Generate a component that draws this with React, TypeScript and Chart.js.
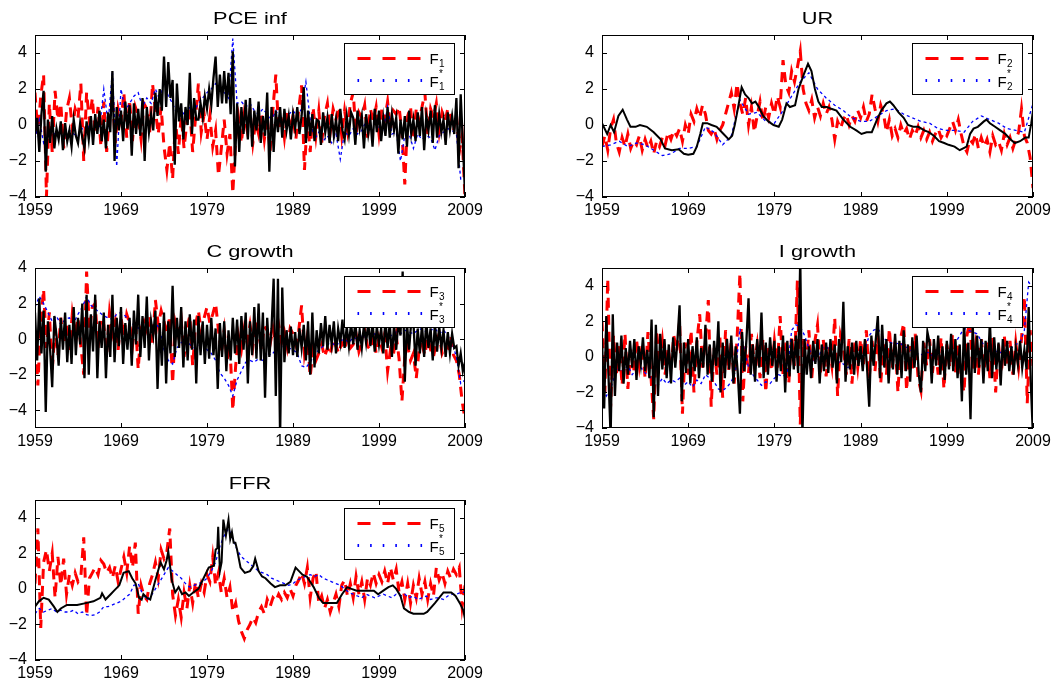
import React, { useEffect, useRef } from "react";
import { Chart, registerables } from "chart.js";

Chart.register(...registerables);

const FONT = '"Liberation Sans", Arial, Helvetica, sans-serif';

// ---------- axis ticks ----------
const yearTicks = [1959, 1969, 1979, 1989, 1999, 2009];
const yTicks = [-4, -2, 0, 2, 4];

// ---------- PCE inf ----------
const pceActual = [
  -0.5, 0.4, -1.5, 0.6, 1.9, -2.6, 0.3, -1.0, 0.5, -1.3, -0.2, -0.8, 0.2, -1.4, 0.1, -0.9,
  -0.3, -1.2, 0.3, -0.6, -1.0, 0.1, -0.7, -1.3, 0.2, -0.8, 0.5, -1.1, 0.6, -0.5, 0.8, -0.9,
  0.3, -1.3, 0.7, -0.4, 3.0, -2.0, 1.0, -0.3, 0.8, -0.9, 1.3, -0.2, 1.1, -1.7, 1.2, -0.5,
  0.9, -0.6, 1.5, -2.0, 1.0, -0.4, 0.6, -0.3, 1.8, 0.5, 2.0, 0.8, 3.8, 1.0, 3.5, 1.5,
  2.5, -2.2, 2.3, 0.2, 1.2, -0.8, 1.0, 0.0, 2.9, -0.5, 1.5, 0.3, 0.3, 1.2, 0.4, 1.6,
  0.9, 2.0, 1.1, 2.6, 3.8, 1.0, 2.8, 1.2, 3.0, 1.2, 2.9, 0.6, 4.1, -2.3, 1.2, -1.5,
  1.0, -0.5, 1.4, -0.8, 1.5, -1.2, 0.8, -0.3, 1.3, -1.0, 0.5, -0.6, 1.8, -2.6, 1.0, -1.5,
  0.8, -0.4, 1.0, -0.7, 0.9, -0.3, 0.5, -0.8, 0.6, -0.2, 1.0, -0.5, 0.5, 2.1, -1.0, 0.8,
  -0.6, 0.6, -0.9, 0.3, 0.2, -1.1, 0.7, -0.4, 0.4, -1.0, 0.6, -0.6, 0.3, -0.9, 0.9, -0.3,
  -0.8, 0.5, -0.5, 0.7, 0.4, -1.1, 0.8, -0.2, 0.5, -1.3, 0.6, -0.5, 0.3, -1.2, 0.9, -0.4,
  0.8, -0.9, 0.4, -0.6, 1.0, -0.7, 0.6, -0.3, 0.4, -1.6, 0.3, -0.8, 0.5, -1.2, 0.8, -0.5,
  0.3, -0.9, 0.7, -0.6, 1.0, -1.4, 0.5, -0.3, 0.8, -1.0, 1.1, -0.7, 0.6, -0.4, 0.3, -1.1,
  0.7, -0.3, 0.5, -0.5, 1.5, -2.4, 1.7, -1.0, -3.8,
];
const pceF = [
  1.8, -0.5, 1.6, 2.8, -4.0, 1.2, -1.5, 1.9, 0.3, 1.2, -1.3, 0.8, 1.5, -0.2, 0.9,
  0.4, 2.3, -2.0, 1.8, 0.2, 1.5, -0.5, 1.0, -1.2, 1.3, -1.5, 0.6, 1.6, -1.0, 0.9,
  0.2, 1.8, -0.7, 1.4, -0.9, 1.0, 0.5, -0.8, 1.2, 0.9, -0.4, 2.3, 0.8, -0.5, 1.0,
  -1.2, -2.5, -1.0, -3.0, 0.3, -1.6, 0.5, -1.3, 0.2, 0.9, -1.5, 0.4, 2.3, -0.4, 0.6,
  -0.8, 0.5, -1.2, -0.3, -2.8, -1.3, 0.3, -1.6, -0.5, -3.8, -0.8, 0.4, -1.0, 0.6, -0.3,
  0.8, -1.0, 0.2, -0.5, 0.7, -0.8, 0.5, -1.5, 0.9, 2.8, -0.3, 0.6, -0.7, 0.8, -0.2,
  0.5, -0.8, 0.9, 2.2, -2.5, 0.4, -1.5, 1.0, -0.6, 0.8, -1.0, 0.5, 1.2, -0.4, 0.9,
  0.3, 1.0, -0.6, 0.8, -0.3, 1.2, 1.8, -0.5, 0.7, 0.4, 1.1, -0.7, 0.9, 0.2, 1.0,
  -0.5, 0.9, 0.3, 1.3, -0.2, 0.8, 0.6, 1.0, -0.4, -3.3, 0.5, 1.0, -0.8, 0.9, 0.2,
  1.0, 1.8, -0.5, 0.9, 0.4, 1.2, -0.4, 0.7, 0.2, 0.9, 0.5, -0.3, 0.6, -1.5, -0.6,
  -4.0,
];
const pceFstar = [
  -0.8, 0.3, -1.0, -0.5, -0.6, -0.4, -0.5, -0.8, -0.3, -0.5, -0.6, -0.2, -0.4, 0.2,
  0.3, -0.2, 2.0, 0.1, 3.0, -2.3, 2.0, 0.8, 1.2, 1.6, 1.8, 1.0, 1.5, 1.2, 2.0, 1.4,
  2.4, 1.6, 1.2, 0.6, 0.8, 0.5, 1.0, 0.8, 1.2, 1.5, 1.8, 2.0, 2.3, 2.0, 1.8, 1.5,
  4.8, 1.2, 1.3, 1.0, 1.2, 0.8, 0.6, 0.9, 0.6, 0.2, 0.8, 0.4, 0.5, 0.6, 0.8, 0.5,
  0.9, 2.4, 0.3, -0.8, -0.4, -0.9, -0.6, -1.0, -0.5, -1.9, -0.4, -0.6, -0.2, -0.5,
  -0.3, 0.2, -0.4, -0.2, -0.1, -0.3, 1.0, -0.5, -0.4, -2.0, -0.6, -0.5, -1.3, -0.5,
  -0.8, -0.6, -0.7, -1.4, -0.6, -0.4, -0.2, -0.3, -0.5, -3.0, -3.0,
];

// ---------- UR ----------
const urActualYears = [
  1959.0, 1959.6, 1960.0, 1960.4, 1960.9, 1961.4, 1961.9, 1962.3, 1962.9, 1963.4, 1964.2, 1965.0,
  1965.8, 1966.3, 1967.1, 1967.9, 1968.5, 1969.0, 1969.6, 1970.0, 1970.4, 1970.7, 1971.2, 1971.7,
  1972.3, 1973.1, 1973.7, 1974.1, 1974.4, 1974.8, 1975.2, 1975.6, 1976.0, 1976.4, 1976.8, 1977.2,
  1977.7, 1978.3, 1978.9, 1979.5, 1979.9, 1980.4, 1980.8, 1981.4, 1981.8, 1982.4, 1982.9, 1983.3,
  1983.7, 1984.1, 1984.5, 1985.1, 1985.6, 1986.2, 1987.0, 1987.8, 1988.5, 1989.1, 1989.7, 1990.3,
  1990.9, 1991.4, 1992.0, 1992.4, 1992.8, 1993.4, 1994.0, 1994.5, 1995.1, 1995.7, 1996.4, 1996.9,
  1997.5, 1998.1, 1998.7, 1999.2, 1999.9, 2000.5, 2000.9, 2001.3, 2001.7, 2002.1, 2002.6, 2003.3,
  2003.6, 2004.0, 2004.6, 2005.2, 2005.8, 2006.4, 2006.9, 2007.5, 2008.1, 2008.5, 2008.8, 2009.0,
];
const urActual = [
  0.1, -0.5, 0.0, -0.4, 0.5, 0.85, 0.3, -0.1, -0.1, 0.0, -0.1, -0.4,
  -0.8, -1.3, -1.4, -1.35, -1.6, -1.65, -1.6, -1.2, -0.5, 0.1, 0.1, 0.0,
  -0.1, -0.5, -0.8, -0.6, 0.0, 1.0, 2.1, 1.7, 1.5, 1.2, 1.3, 1.0,
  0.5, 0.2, 0.0, -0.1, 0.3, 1.2, 1.0, 1.1, 2.0, 2.8, 3.4, 3.0,
  2.0, 1.3, 1.0, 1.0, 0.9, 0.8, 0.3, -0.1, -0.3, -0.5, -0.4, -0.4,
  0.3, 0.8, 1.2, 1.3, 1.1, 0.7, 0.4, 0.0, -0.1, -0.1, -0.3, -0.4,
  -0.6, -0.9, -1.0, -1.1, -1.2, -1.4, -1.3, -1.2, -0.5, -0.2, -0.1, 0.2,
  0.3, 0.1, -0.1, -0.3, -0.5, -0.8, -1.0, -0.9, -0.7, -0.7, 0.1, 0.8,
];
const urF = [
  -1.2, -0.6, -1.4, -0.2, 0.3, -1.0, -1.5, -0.7, -1.2, -0.5, -1.3, -0.9, -1.1, -0.6, -1.4,
  -0.8, -1.3, -0.9, -1.6, -0.9, -1.2, -0.7, -1.1, -0.4, -0.8, -0.3, -0.6, -0.2, -0.9, 0.0,
  -0.5, 0.6, 0.2, 0.9, 0.4, 1.1, 0.6, -0.3, -0.5, -0.2, -0.8, -0.3, 0.0, 0.6, 1.2,
  1.8, 0.9, 2.3, 1.2, 0.6, 1.5, 0.0, 1.0, -0.4, 0.5, 1.3, 0.2, 1.0, 0.4, 1.2,
  0.6, 1.6, 1.0, 3.6, 2.2, 1.8, 3.0, 2.4, 3.2, 4.1, 2.0, 1.2, 0.8, 1.4, 0.4,
  1.0, 0.5, 1.2, 0.6, 1.0, 0.3, -0.8, 0.2, -0.2, 0.3, 0.6, 0.0, 0.5, 0.2, 0.8,
  0.4, 1.0, 0.2, 0.6, 1.7, 0.9, 0.2, 1.1, 0.6, -0.4, 0.3, -0.6, -0.2, -0.7, 0.0,
  -0.5, -0.2, -0.8, -0.3, -0.6, -0.1, -0.7, -0.3, -0.8, -0.4, -0.9, -0.5, -0.2, -0.7, -0.4,
  -0.6, -0.2, 0.2, -0.3, 0.3, -0.5, -1.2, -1.5, -0.8, -1.0, -0.5, -1.3, -0.7, -1.2, -0.8,
  -1.5, -0.6, -1.1, -0.9, -1.4, -0.5, -1.1, -0.7, -1.3, -0.8, -0.4, 0.9, -0.6, -1.0, -1.8,
  -3.5,
];
const urFstar = [
  -1.2, -1.1, -0.9, -1.2, -1.0, -1.1, -1.4, -1.7, -1.6, -1.3, -1.3, -1.2, -0.1, -0.4, -1.1,
  -0.6, 1.4, 0.6, 0.7, 0.2, 0.1, 0.8, 1.6, 2.4, 2.9, 2.0, 1.5, 1.1, 0.8, 0.4, 0.2, 0.2,
  0.5, 0.8, 0.9, 0.6, 0.4, 0.2, 0.1, -0.2, -0.3, -0.3, -0.4, 0.2, 0.5, 0.3, 0.1, -0.2,
  -0.3, -0.4, 1.2,
];

// ---------- C growth ----------
const cActual = [
  1.5, -1.2, 2.3, -0.8, 1.6, -4.1, 1.0, -0.5, -2.7, 1.3, 0.2, -1.5, 1.2, -0.6, 1.5, -1.3,
  0.8, -1.4, 1.8, -0.9, 1.2, -0.3, 2.0, -2.2, 2.5, -2.0, 1.4, -0.7, 2.5, -2.2, 1.0, -0.5,
  1.5, -2.2, 0.8, -1.0, 2.5, -1.3, 1.2, -0.4, 1.8, -1.4, 0.9, -0.6, 1.2, -1.5, 1.6, -0.3,
  2.5, -1.0, 1.3, -0.5, 2.4, -1.2, 1.0, 0.2, 1.6, -2.8, 0.9, -1.5, 1.5, -2.5, 1.0, -0.8,
  3.0, -1.0, 1.2, -0.5, 1.8, -1.6, 1.0, -1.2, 1.4, -0.6, 1.1, -2.5, 1.3, -0.9, 1.0, -1.4,
  0.8, -1.1, 1.2, -0.9, 0.6, -2.8, 0.9, -1.0, 1.0, -1.8, 0.5, -1.2, 1.2, -0.8, 1.1, -1.4,
  1.3, -0.6, 1.5, -2.5, 1.0, -0.9, 1.8, -1.1, 2.0, -1.2, 1.5, -3.3, 1.2, -1.0, 0.6, 3.4,
  -3.2, 3.4, -5.5, 2.9, -1.3, 0.5, -0.8, 0.7, -0.9, 0.4, -1.0, 0.6, -0.5, 0.8, -1.2, 1.0,
  -2.0, 1.5, -1.6, 0.5, -0.8, 0.9, -0.4, 1.3, -0.6, 0.8, -0.3, 1.0, -0.8, 0.6, -0.2, 1.1,
  -0.5, 0.7, -0.4, 0.9, -0.3, 1.0, -0.6, 0.5, -0.5, 0.8, -0.2, 0.9, -0.4, 1.0, -0.7, 0.7,
  -0.3, 0.6, -0.8, 1.1, -0.5, 0.9, -1.0, 0.8, -0.6, 1.0, 0.2, 3.8, -2.4, 0.9, -0.6, 1.0,
  1.0, -1.5, 0.6, -0.8, 0.8, -1.0, 1.0, -0.5, 0.6, -1.2, 0.9, -0.7, 0.7, -0.5, 0.5, -1.0,
  0.4, -0.8, 0.3, -0.5, -0.4, -1.5, -0.8, -1.8, -1.3,
];
const cF = [
  0.5, -2.6, 1.0, 2.8, -0.5, 1.5, -1.8, 0.6, -0.9, 1.2, -0.3, 0.8, -0.6, 1.4, 0.2,
  1.2, -0.4, -2.0, 3.8, 0.5, 1.8, 2.0, -0.5, 1.2, 0.8, -0.8, 1.5, 0.3, 1.0, -0.6,
  1.2, 0.2, 1.4, 0.9, -0.4, 1.1, -1.7, 0.6, 1.0, 0.5, 1.3, -0.2, 2.2, 0.8, 1.6,
  1.0, 0.3, 1.3, -2.5, 0.9, 0.2, 1.1, -1.0, 0.6, 1.3, -1.5, 0.8, 1.6, 0.4, 1.2,
  1.8, 0.9, 1.4, 2.0, 0.5, -0.8, 0.5, -1.2, -0.3, -4.0, -1.5, 0.2, -0.6, 0.6, -0.2,
  0.8, -0.4, 1.0, 0.3, -0.6, 0.7, 0.5, -0.3, 0.6, -0.4, 0.8, -0.2, 0.4, -0.5, 0.6,
  0.3, -0.3, 0.5, 1.9, -0.8, 0.2, -2.1, -0.6, -1.2, -0.8, -0.3, -1.0, -0.5, -0.9, 0.0,
  -0.4, -0.8, -0.2, -0.6, 0.1, -0.5, -0.3, 0.3, -0.7, -0.2, 0.5, -0.4, -0.6, 0.2, -0.8,
  0.1, -0.5, 0.3, -1.8, -0.6, -0.9, 0.2, -1.1, -3.5, -1.0, -0.4, -1.2, -0.8, -2.2, -0.6,
  -0.3, -0.9, 0.1, -0.6, -1.0, -0.2, 0.3, -0.8, -0.4, -0.5, 0.2, -0.9, -1.2, -2.0, -3.5,
  -4.5,
];
const cFstar = [
  1.8, 2.4, 2.0, 1.5, 1.0, 1.3, 0.8, 1.1, 1.2, 0.9, 1.4, 1.8, 2.4, 1.9, 1.7, 1.5,
  1.3, 1.2, 1.1, 1.4, 1.5, 1.3, 1.0, 0.8, 0.6, 0.9, 0.7, 0.5, 0.9, 0.6, -0.6, -1.2,
  -1.4, -0.5, -0.2, 0.0, -0.3, -0.5, -0.4, -0.2, -0.6, -0.8, -1.2, -1.9, -2.2, -2.6,
  -3.2, -2.3, -1.8, -1.3, -1.2, -1.3, -1.1, -1.2, -0.8, -0.9, -0.6, -0.5, -0.4, -0.5,
  -0.6, -0.8, -1.5, -1.6, -1.3, -0.9, -0.6, -0.4, -0.3, -0.2, -0.4, -0.1, 0.0, -0.2,
  0.1, 0.0, 0.2, 0.1, 0.0, 0.3, 0.2, 0.1, 0.3, 0.2, 0.4, 0.3, 0.5, 0.4, 0.3, 0.5,
  0.6, 0.4, 0.5, 0.6, 0.3, 0.5, 0.2, -0.2, -1.0, -2.5, -2.3,
];

// ---------- I growth ----------
const iActual = [
  1.0, -2.9, 2.3, -1.0, -4.5, 2.4, -2.2, 0.8, -0.8, 1.2, -1.5, 0.5, -1.0, 0.9, -0.6, 1.0,
  -1.3, 0.6, -0.4, 1.1, -0.8, 0.4, -1.2, 2.1, -3.4, 1.8, -2.2, 1.3, -0.7, 1.0, -1.2, 0.7,
  -1.5, 1.1, -0.6, 0.9, 2.9, -2.5, 0.8, -0.9, 1.0, -1.5, 0.6, -0.8, 1.1, -1.2, 0.5, -0.6,
  1.8, -1.0, 0.7, -1.4, 0.9, -0.5, 2.0, -2.0, 0.8, -1.2, 1.0, -0.7, 1.2, -1.5, 0.6, -0.9,
  -3.2, 1.4, -0.8, 0.9, 3.3, -1.0, 0.7, -1.4, 1.0, -0.6, 2.5, -1.2, 0.8, -1.0, 1.1, -0.5,
  0.9, -1.4, 0.6, -0.8, 1.2, -2.0, 0.9, -1.1, 1.0, -0.7, 1.2, -0.9, 5.5, -4.5, 1.0, -1.0,
  0.6, -1.2, 0.9, -0.4, 1.0, -1.5, 0.7, -0.8, 0.8, -0.9, 1.0, -0.6, 0.7, -1.5, 1.0, -0.3,
  3.1, -1.4, 0.6, -0.7, 0.8, -1.0, 0.9, -0.5, 0.6, -0.8, 1.0, -0.6, -2.8, 1.2, -0.5, 0.9,
  2.3, -1.2, 1.8, -0.6, 1.0, -1.5, 0.8, -0.7, 1.3, -1.0, 0.9, -1.2, 1.5, -0.8, 0.7, -1.4,
  1.1, -0.6, 1.2, -1.0, -2.0, 0.9, -0.8, 1.4, 0.8, -1.5, 1.0, -0.5, 1.2, -1.0, 0.6, -1.3,
  0.9, -0.7, 1.3, -0.8, 1.0, -1.2, 0.7, -2.5, 2.0, -1.0, 0.8, -3.5, 1.8, -0.9, 1.2, -0.6,
  1.0, -1.5, 0.9, -0.8, 2.0, -1.2, 1.1, -0.7, 0.8, -1.6, 1.0, -0.5, 0.9, -0.8, 0.6, -1.0,
  0.5, -0.4, 0.9, -0.6, 0.4, -0.7, 2.8, -1.5, -4.5,
];
const iF = [
  2.0, -2.0, 4.4, -2.8, 1.2, -1.0, 0.6, -1.6, 1.3, -1.8, 0.4, -0.9, 1.0, -0.5, 0.7,
  -1.2, 1.4, -1.0, -3.5, 1.5, -0.4, 0.9, -1.0, 0.5, -0.7, 1.2, 0.3, 2.0, -3.2, 0.8,
  -1.0, 1.5, -2.0, 0.8, 2.4, -0.6, 1.0, 3.2, -2.8, 0.5, -1.0, 1.2, -2.3, 1.5, -0.8,
  0.9, -1.5, 1.0, 4.7, -2.5, 0.6, -0.9, 1.3, -0.4, 0.7, -1.2, 1.0, -2.0, 0.5, -0.8,
  0.9, -0.6, 2.3, -1.0, 0.8, -1.5, 1.2, -0.5, 4.3, -3.8, 1.0, -0.7, 1.5, -1.2, 0.8,
  1.8, -0.9, 1.0, -1.1, 0.6, -0.5, 2.2, -2.2, 1.2, 0.5, -1.0, 1.0, -1.5, 0.8, -0.6,
  1.0, -0.4, 1.5, -1.2, 0.9, -0.8, 1.2, -1.5, 0.7, -1.0, 1.6, -0.6, 0.9, -2.0, 1.1,
  1.9, -1.9, 0.6, -0.8, 1.3, -1.2, -1.9, 0.8, -0.5, 1.0, -0.9, 0.6, -1.0, 1.1, -1.8,
  0.7, -0.6, 1.3, -0.9, 0.8, -1.1, -2.0, 1.2, 2.0, -0.8, 0.6, -1.0, 1.0, -0.7, 0.8,
  -1.2, 1.1, -2.0, 0.7, -0.9, 1.2, -0.5, 0.9, -1.0, 0.8, -0.6, 1.0, 3.4, -2.6, 1.5,
  -0.5,
];
const iFstar = [
  -1.5, -2.2, -1.8, -1.0, -0.6, -0.8, -0.5, -1.0, -0.7, -0.6, -0.9, -1.1, -1.4, -1.6,
  -1.2, -1.5, -1.3, -1.4, -1.2, -1.6, -1.4, -1.7, -1.3, -1.5, -1.0, -1.2, -1.4, -1.8,
  -1.9, -1.7, -1.4, -0.8, 1.6, 0.4, -0.6, -1.0, -1.3, -1.6, -1.4, -1.5, -1.2, -1.0,
  -1.1, -0.9, 1.5, 1.8, 1.7, 1.2, 0.5, -0.2, -0.3, 0.5, 0.6, 0.3, 0.0, -0.3, -0.4,
  -0.6, -0.5, -0.4, -0.2, 0.4, 1.2, 1.5, 1.6, 1.2, 0.9, 0.8, 0.7, 0.8, 0.6, 0.5,
  0.3, 0.2, 0.1, 0.3, 0.2, 0.0, 0.2, 0.1, 0.3, 0.4, 0.8, 1.2, 1.6, 1.5, 1.4, 1.3,
  0.9, 0.5, 0.3, 0.4, 0.2, 0.3, 0.4, 0.5, 0.7, 0.8, 1.5, 4.2, 3.9,
];

// ---------- FFR ----------
const ffrActualYears = [
  1959.0, 1959.45, 1960.0, 1960.6, 1961.2, 1961.6, 1962.0, 1962.7, 1963.9, 1964.9, 1965.8, 1966.6,
  1966.8, 1967.2, 1967.8, 1968.2, 1968.8, 1969.3, 1969.9, 1970.3, 1970.7, 1971.1, 1971.4, 1971.6,
  1972.0, 1972.4, 1973.0, 1973.6, 1974.0, 1974.3, 1974.5, 1974.9, 1975.3, 1975.7, 1976.1, 1976.5,
  1976.9, 1977.4, 1978.0, 1978.6, 1979.2, 1979.8, 1980.0, 1980.2, 1980.3, 1980.5, 1980.7, 1980.9,
  1981.2, 1981.5, 1981.7, 1981.9, 1982.1, 1982.3, 1982.5, 1982.9, 1983.4, 1984.0, 1984.4, 1984.6,
  1985.0, 1985.4, 1985.8, 1986.4, 1986.9, 1987.5, 1988.1, 1988.7, 1989.3, 1989.7, 1990.1, 1990.6,
  1991.0, 1991.4, 1992.0, 1992.5, 1993.3, 1994.1, 1994.7, 1995.3, 1995.8, 1996.4, 1997.4, 1998.4,
  1998.9, 1999.5, 2000.1, 2000.6, 2001.0, 2001.5, 2001.9, 2002.5, 2003.0, 2004.2, 2004.6, 2005.5,
  2006.5, 2007.4, 2007.9, 2008.4, 2008.8, 2009.0,
];
const ffrActual = [
  -1.0, -0.7, -0.5, -0.6, -1.0, -1.3, -1.1, -0.9, -0.9, -0.8, -0.7, -0.5,
  -0.25, -0.6, -0.3, -0.1, 0.2, 0.9, 1.0, 0.6, 0.3, -0.5, -0.6, -0.3,
  -0.5, -0.6, 0.5, 1.5, 1.1, 1.6, 2.1, 0.5, -0.2, 0.1, -0.3, -0.2,
  -0.4, -0.2, 0.0, 0.6, 1.2, 1.3, 2.2, 2.3, 3.5, 1.0, 1.5, 3.9,
  3.0, 3.9, 2.8, 3.2, 2.6, 2.6, 2.2, 1.2, 0.9, 1.0, 1.3, 1.7,
  1.0, 0.7, 0.6, 0.3, 0.1, 0.2, 0.2, 0.4, 1.2, 1.0, 0.8, 0.7,
  0.4, 0.1, -0.5, -0.8, -0.8, -0.8, -0.3, 0.1, 0.0, -0.1, -0.1, -0.1,
  -0.3, -0.1, 0.1, 0.2, 0.0, -0.4, -1.1, -1.3, -1.4, -1.4, -1.3, -0.8,
  -0.2, -0.2, -0.4, -0.8, -1.2, -1.7,
];
const ffrF = [
  0.3, 3.4, -2.2, 1.5, 2.2, 1.0, 2.0, -0.5, 1.8, 0.2, 1.7, -0.3, 0.8, 0.2, 0.9,
  0.4, 0.7, 2.9, -1.5, 0.6, 0.9, 1.2, 0.8, 1.6, 1.4, 0.9, 1.2, 0.6, 1.3, 0.4,
  1.1, 1.8, 0.9, 2.4, 1.2, 2.6, -1.4, 0.2, -0.4, -0.6, 0.3, 0.8, 1.5, 0.6, 2.2,
  1.7, 2.1, 3.4, -0.3, -1.5, -0.6, -1.6, -0.2, -1.1, 0.2, -0.8, 0.4, -0.5, 0.3, -0.2,
  0.8, 0.4, 1.8, 0.2, 0.9, -0.2, 0.6, -0.5, 0.1, -1.3, -0.8, -1.8, -2.4, -2.8, -2.3,
  -2.0, -1.6, -1.9, -1.3, -1.0, -1.4, -0.6, -1.0, -0.5, -0.7, -0.3, -0.6, -0.2, -0.5, 0.0,
  -0.4, 0.2, 0.5, 0.9, 0.3, 1.2, -0.5, 0.6, 1.0, -0.8, -0.4, -1.1, -0.6, -1.3, -0.8,
  -0.3, -1.0, 0.2, 0.5, -0.4, 0.3, -0.5, 0.7, -0.3, 0.4, -0.6, 0.6, 0.2, 0.9, 0.3,
  0.8, 0.4, 1.0, 0.3, 1.2, 0.5, 1.1, -0.2, 0.4, -0.6, 0.3, -0.8, 0.2, -0.5, 0.6,
  -0.3, 0.4, -0.6, 0.3, -0.4, 1.2, 0.5, 0.9, 0.3, 1.0, 0.6, 1.1, 0.8, 1.2, -1.0,
  0.2,
];
const ffrFstar = [
  -1.4, -1.1, -1.3, -1.2, -1.1, -1.3, -1.2, -1.3, -1.3, -1.2, -1.4, -1.3, -1.45, -1.5,
  -1.45, -1.3, -1.0, -1.0, -0.9, -0.8, -0.7, -0.5, -0.3, 0.2, 0.3, -0.3, -0.6, -0.4,
  0.0, 0.4, 0.8, 1.2, 1.0, 0.8, 0.6, 0.3, 0.1, 0.2, 0.3, 0.4, 0.6, 1.0, 1.5, 2.4,
  3.0, 3.4, 2.8, 2.2, 1.8, 1.6, 1.4, 1.2, 1.0, 0.9, 0.8, 0.6, 0.5, 0.4, 0.3, 0.2,
  0.3, 0.5, 0.6, 0.7, 0.8, 0.7, 0.8, 0.6, 0.5, 0.4, 0.3, 0.2, 0.0, -0.2, -0.3, -0.4,
  -0.5, -0.3, -0.4, -0.5, -0.4, -0.3, -0.4, -0.5, -0.3, -0.4, -0.3, -0.5, -0.4, -0.6,
  -0.5, -0.4, -0.6, -0.5, -0.5, -0.6, -0.4, -0.3, -0.3, -0.2, -0.2,
];

// ---------- helpers ----------
function evenSeries(values: number[]) {
  const n = values.length;
  const x0 = yearTicks[0];
  const x1 = yearTicks[yearTicks.length - 1];
  return values.map((v, i) => ({ x: x0 + (i * (x1 - x0)) / (n - 1), y: v }));
}
function pairSeries(years: number[], values: number[]) {
  const n = Math.min(years.length, values.length);
  const out: { x: number; y: number }[] = [];
  for (let i = 0; i < n; i++) out.push({ x: years[i], y: values[i] });
  return out;
}
const fmtNum = (v: number) => (v < 0 ? "\u2212" + Math.abs(v) : String(v));

type PanelSpec = {
  title: string;
  idx: string;
  yMin: number;
  yMax: number;
  noisy: boolean;
  actual: { x: number; y: number }[];
  f: { x: number; y: number }[];
  fstar: { x: number; y: number }[];
  canvas: { x: number; y: number; w: number; h: number };
  area: { l: number; r: number; t: number; b: number };
};

const panels: PanelSpec[] = [
  {
    title: "PCE inf", idx: "1", yMin: -4, yMax: 5, noisy: true,
    actual: evenSeries(pceActual), f: evenSeries(pceF), fstar: evenSeries(pceFstar),
    canvas: { x: 0, y: 0, w: 528, h: 230 }, area: { l: 35, r: 465, t: 35, b: 197 },
  },
  {
    title: "UR", idx: "2", yMin: -4, yMax: 5, noisy: false,
    actual: pairSeries(urActualYears, urActual), f: evenSeries(urF), fstar: evenSeries(urFstar),
    canvas: { x: 560, y: 0, w: 497, h: 230 }, area: { l: 602, r: 1033, t: 35, b: 197 },
  },
  {
    title: "C growth", idx: "3", yMin: -5, yMax: 4, noisy: true,
    actual: evenSeries(cActual), f: evenSeries(cF), fstar: evenSeries(cFstar),
    canvas: { x: 0, y: 232, w: 528, h: 228 }, area: { l: 35, r: 465, t: 268, b: 428 },
  },
  {
    title: "I growth", idx: "4", yMin: -4, yMax: 5, noisy: true,
    actual: evenSeries(iActual), f: evenSeries(iF), fstar: evenSeries(iFstar),
    canvas: { x: 560, y: 232, w: 497, h: 228 }, area: { l: 602, r: 1033, t: 268, b: 428 },
  },
  {
    title: "FFR", idx: "5", yMin: -4, yMax: 5, noisy: false,
    actual: pairSeries(ffrActualYears, ffrActual), f: evenSeries(ffrF), fstar: evenSeries(ffrFstar),
    canvas: { x: 0, y: 464, w: 528, h: 220 }, area: { l: 35, r: 465, t: 500, b: 660 },
  },
];

const Y_AXIS_W = 30;
const X_AXIS_H = 24;

const framePlugin = {
  id: "frame",
  afterDraw(chart: any, _args: any, opts: any) {
    const { ctx, chartArea: a, scales } = chart;
    const xs = scales.x;
    const ys = scales.y;
    ctx.save();
    ctx.setLineDash([]);
    ctx.strokeStyle = "#000";
    ctx.lineWidth = 1;
    ctx.strokeRect(a.left + 0.5, a.top + 0.5, a.right - a.left - 1, a.bottom - a.top - 1);
    ctx.beginPath();
    for (const v of yTicks) {
      const py = Math.round(ys.getPixelForValue(v)) + 0.5;
      ctx.moveTo(a.left, py);
      ctx.lineTo(a.left + 5, py);
      ctx.moveTo(a.right, py);
      ctx.lineTo(a.right - 5, py);
    }
    for (const v of yearTicks) {
      const px = Math.round(xs.getPixelForValue(v)) + 0.5;
      ctx.moveTo(px, a.bottom);
      ctx.lineTo(px, a.bottom - 5);
      ctx.moveTo(px, a.top);
      ctx.lineTo(px, a.top + 5);
    }
    ctx.stroke();

    // title
    ctx.save();
    ctx.fillStyle = "#000";
    ctx.font = `17px ${FONT}`;
    ctx.textAlign = "center";
    ctx.textBaseline = "alphabetic";
    ctx.translate((a.left + a.right) / 2, a.top - 11);
    ctx.scale(1.28, 1);
    ctx.fillText(opts.title, 0, 0);
    ctx.restore();

    // legend
    const bx = Math.round(a.right - 121) + 0.5;
    const by = Math.round(a.top + 8) + 0.5;
    const bw = 110;
    const bh = 51;
    ctx.fillStyle = "#fff";
    ctx.fillRect(bx, by, bw, bh);
    ctx.strokeStyle = "#000";
    ctx.lineWidth = 1;
    ctx.strokeRect(bx, by, bw, bh);

    ctx.strokeStyle = "rgb(255,0,0)";
    ctx.lineWidth = 3;
    ctx.setLineDash([13, 12]);
    ctx.beginPath();
    ctx.moveTo(bx + 13, by + 15);
    ctx.lineTo(bx + 78, by + 15);
    ctx.stroke();
    ctx.setLineDash([]);

    ctx.fillStyle = "rgb(0,0,255)";
    for (let k = 0; k < 6; k++) ctx.fillRect(bx + 13 + k * 12.6, by + 35.5, 1.6, 3);

    ctx.fillStyle = "#000";
    ctx.textAlign = "left";
    ctx.textBaseline = "alphabetic";
    ctx.font = `15px ${FONT}`;
    ctx.fillText("F", bx + 85, by + 20);
    ctx.fillText("F", bx + 85, by + 43);
    ctx.font = `10px ${FONT}`;
    ctx.fillText(opts.idx, bx + 94.5, by + 23);
    ctx.fillText(opts.idx, bx + 94.5, by + 46);
    ctx.fillText("*", bx + 94.5, by + 33);
    ctx.restore();
  },
};

function Panel({ spec }: { spec: PanelSpec }) {
  const ref = useRef<HTMLCanvasElement | null>(null);
  useEffect(() => {
    if (!ref.current) return;
    const c = spec.canvas;
    const a = spec.area;
    const padding = {
      left: a.l - c.x - Y_AXIS_W,
      top: a.t - c.y,
      right: c.x + c.w - a.r,
      bottom: c.y + c.h - a.b - X_AXIS_H,
    };
    const chart = new Chart(ref.current, {
      type: "line",
      data: {
        datasets: [
          { label: "actual", data: spec.actual, borderColor: "#000", borderWidth: spec.noisy ? 2.3 : 2, order: 0, clip: 0 } as any,
          { label: "F*", data: spec.fstar, borderColor: "rgb(0,0,255)", borderWidth: 1.3, borderDash: [3, 3], order: 1, clip: 0 } as any,
          { label: "F", data: spec.f, borderColor: "rgb(255,0,0)", borderWidth: 3, borderDash: [10, 7], order: 2, clip: 0 } as any,
        ],
      },
      options: {
        animation: false,
        responsive: false,
        events: [],
        layout: { padding },
        elements: {
          point: { radius: 0 },
          line: { tension: 0, fill: false, borderCapStyle: "butt", borderJoinStyle: "miter" },
        },
        scales: {
          x: {
            type: "linear",
            min: yearTicks[0],
            max: yearTicks[yearTicks.length - 1],
            grid: { display: false, drawTicks: false },
            border: { display: false },
            afterBuildTicks: (s: any) => {
              s.ticks = yearTicks.map((v) => ({ value: v }));
            },
            afterFit: (s: any) => {
              s.height = X_AXIS_H;
              s.paddingLeft = 0;
              s.paddingRight = 0;
            },
            ticks: {
              color: "#000",
              font: { family: FONT, size: 16 },
              padding: 4,
              maxRotation: 0,
              autoSkip: false,
              callback: (v: any) => String(v),
            },
          },
          y: {
            type: "linear",
            min: spec.yMin,
            max: spec.yMax,
            grid: { display: false, drawTicks: false },
            border: { display: false },
            afterBuildTicks: (s: any) => {
              s.ticks = yTicks.map((v) => ({ value: v }));
            },
            afterFit: (s: any) => {
              s.width = Y_AXIS_W;
              s.paddingTop = 0;
              s.paddingBottom = 0;
            },
            ticks: {
              color: "#000",
              font: { family: FONT, size: 16 },
              padding: 8,
              autoSkip: false,
              callback: (v: any) => fmtNum(Number(v)),
            },
          },
        },
        plugins: {
          legend: { display: false },
          tooltip: { enabled: false },
          title: { display: false },
          frame: { title: spec.title, idx: spec.idx },
        } as any,
      },
      plugins: [framePlugin as any],
    } as any);
    return () => chart.destroy();
  }, [spec]);
  const c = spec.canvas;
  return (
    <canvas
      ref={ref}
      width={c.w}
      height={c.h}
      style={{ position: "absolute", left: c.x, top: c.y, width: c.w, height: c.h }}
    />
  );
}

export default function App() {
  return (
    <div style={{ position: "fixed", left: 0, top: 0, width: 1057, height: 684, background: "#fff", overflow: "hidden" }}>
      {panels.map((p) => (
        <Panel key={p.title} spec={p} />
      ))}
    </div>
  );
}
